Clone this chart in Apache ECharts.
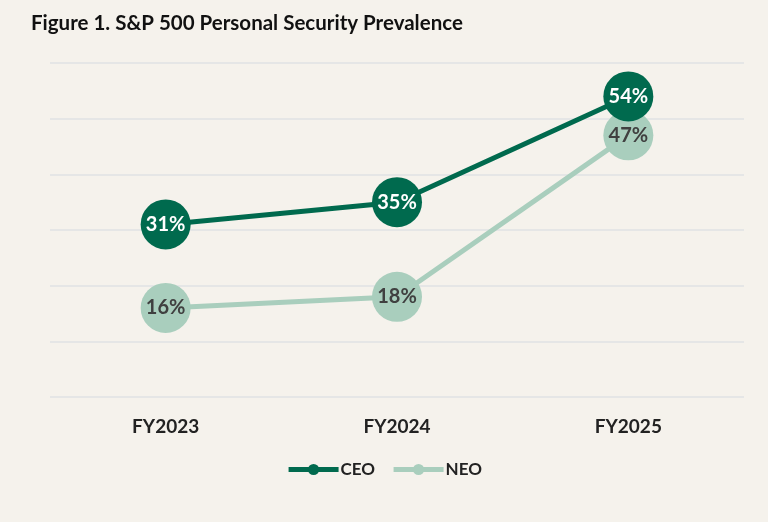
<!DOCTYPE html>
<html><head><meta charset="utf-8">
<script src="https://cdn.jsdelivr.net/npm/echarts@6/dist/echarts.min.js"></script>
<style>html,body{margin:0;padding:0;background:#f5f2ec}#c{width:768px;height:522px}</style>
</head><body><div id="c"></div>
<script>
const categories = ['FY2023', 'FY2024', 'FY2025'];
const ceoValues = [31, 35, 54];
const neoValues = [16, 18, 47];
const yTicks = [0, 10, 20, 30, 40, 50, 60];

const font = 'Lato, "Open Sans", sans-serif';
const chart = echarts.init(document.getElementById('c'));
chart.setOption({
  backgroundColor: '#f5f2ec',
  animation: false,
  title: {
    text: 'Figure 1. S&P 500 Personal Security Prevalence',
    left: 26, top: 8,
    textStyle: { fontFamily: font, fontSize: 20.5, fontWeight: 'bold', color: '#111' }
  },
  grid: { left: 50, right: 24, top: 63, bottom: 125 },
  xAxis: {
    type: 'category', data: categories, boundaryGap: true,
    axisLine: { show: false }, axisTick: { show: false },
    axisLabel: { margin: 20, fontFamily: font, fontSize: 19, fontWeight: 'bold', color: '#222' }
  },
  yAxis: {
    type: 'value', min: yTicks[0], max: yTicks[yTicks.length - 1], interval: 10,
    axisLabel: { show: false }, axisLine: { show: false }, axisTick: { show: false },
    splitLine: { lineStyle: { color: '#dfe2e4', width: 1.5 } }
  },
  legend: {
    top: 456, left: 'center', itemWidth: 50, itemHeight: 14, itemGap: 16,
    lineStyle: { width: 5 },
    textStyle: { fontFamily: font, fontSize: 17, fontWeight: 'bold', color: '#222', padding: [0, 0, 0, -3] },
    data: ['CEO', 'NEO']
  },
  series: [
    {
      name: 'NEO', type: 'line', data: neoValues,
      symbol: 'circle', symbolSize: 50,
      lineStyle: { color: '#a9cebd', width: 5 },
      itemStyle: { color: '#a9cebd' },
      label: { show: true, position: 'inside', formatter: '{c}%', fontFamily: font, fontSize: 20, fontWeight: 'bold', color: '#404040' },
      z: 2
    },
    {
      name: 'CEO', type: 'line', data: ceoValues,
      symbol: 'circle', symbolSize: 50,
      lineStyle: { color: '#006a4e', width: 5 },
      itemStyle: { color: '#006a4e' },
      label: { show: true, position: 'inside', formatter: '{c}%', fontFamily: font, fontSize: 20, fontWeight: 'bold', color: '#fff' },
      z: 3
    }
  ]
});
</script></body></html>
